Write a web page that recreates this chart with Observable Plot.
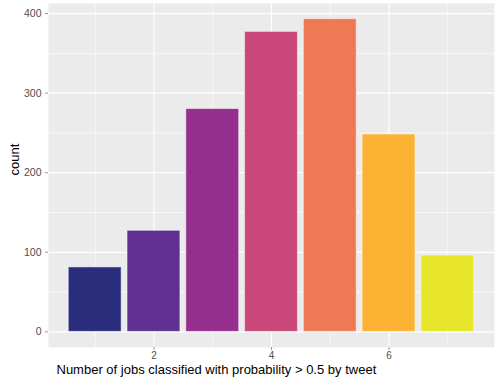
<!DOCTYPE html>
<html>
<head>
<meta charset="utf-8">
<script src="https://cdn.jsdelivr.net/npm/d3@7"></script>
<script src="https://cdn.jsdelivr.net/npm/@observablehq/plot@0.6"></script>
<style>
  html, body { margin: 0; padding: 0; background: #fff; }
  svg { display: block; }
</style>
</head>
<body>
<div id="chart"></div>
<script>
const jobs = [1, 2, 3, 4, 5, 6, 7];
const counts = [81, 127, 280, 377, 393, 248, 96];
const barColors = ["#2a2d7c", "#5f2f91", "#942f8d", "#c94879", "#ee7a55", "#fbb131", "#e8e62b"];
const xTicks = [2, 4, 6];
const xMinor = [1, 3, 5, 7];
const yTicks = [0, 100, 200, 300, 400];
const yMinor = [50, 150, 250, 350];
const xLabel = "Number of jobs classified with probability > 0.5 by tweet";
const yLabel = "count";

const data = jobs.map((j, i) => ({job: j, count: counts[i]}));

const font = "'Liberation Sans', Arial, Helvetica, sans-serif";

const chart = Plot.plot({
  width: 500,
  height: 380,
  marginLeft: 48,
  marginRight: 6,
  marginTop: 3,
  marginBottom: 33,
  style: {fontFamily: font, background: "#fff"},
  x: {domain: [0.205, 7.795]},
  y: {domain: [-19.65, 412.65]},
  color: {type: "ordinal", domain: jobs, range: barColors},
  marks: [
    Plot.frame({fill: "#ebebeb", stroke: null}),
    Plot.ruleY(yMinor, {stroke: "#fff", strokeWidth: 0.6}),
    Plot.ruleX(xMinor, {stroke: "#fff", strokeWidth: 0.6}),
    Plot.ruleY(yTicks, {stroke: "#fff", strokeWidth: 1.2}),
    Plot.ruleX(xTicks, {stroke: "#fff", strokeWidth: 1.2}),
    Plot.rectY(data, {
      x1: d => d.job - 0.45,
      x2: d => d.job + 0.45,
      y1: 0,
      y2: "count",
      fill: "job",
      stroke: "#fff",
      strokeOpacity: 0.5,
      strokeWidth: 1
    }),
    Plot.axisX({ticks: xTicks, tickSize: 3, tickPadding: 1.5, stroke: "#555", strokeWidth: 0.6, color: "#4d4d4d", fontSize: 10, label: null}),
    Plot.axisY({ticks: yTicks, tickSize: 3, tickPadding: 4, stroke: "#555", strokeWidth: 0.6, color: "#4d4d4d", fontSize: 10.5, label: null}),
    Plot.text([xLabel], {frameAnchor: "bottom-left", dx: 8, dy: 26, text: d => d, textAnchor: "start", fontSize: 13, fill: "#000"}),
    Plot.text([yLabel], {frameAnchor: "left", dx: -34, rotate: -90, text: d => d, fontSize: 13, fill: "#000"})
  ]
});
document.getElementById("chart").appendChild(chart);
</script>
</body>
</html>
